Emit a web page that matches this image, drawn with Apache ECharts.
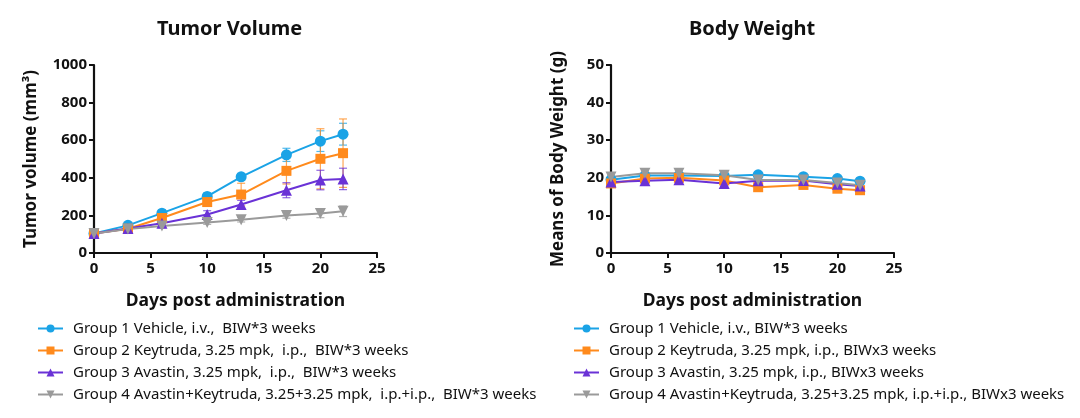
<!DOCTYPE html>
<html>
<head>
<meta charset="utf-8">
<script src="https://cdn.jsdelivr.net/npm/echarts@6/dist/echarts.min.js"></script>
<style>
  html, body { margin: 0; padding: 0; background: #fff; }
  #main { width: 1080px; height: 418px; }
</style>
</head>
<body>
<div id="main"></div>
<script>
;(function (window, document) {
    // 数据
    var days = [0, 3, 6, 10, 13, 17, 20, 22];

    // Tumor volume, mean
    var tv1 = [104, 147, 212, 301, 405, 522, 595, 632];
    var tv2 = [104, 129, 186, 271, 311, 437, 501, 531];
    var tv3 = [104, 130, 158, 205, 258, 334, 388, 394];
    var tv4 = [104, 127, 143, 162, 177, 200, 210, 222];
    // Tumor volume, SEM
    var tvErr1 = [10, 12, 15, 18, 18, 35, 55, 58];
    var tvErr2 = [10, 12, 18, 22, 60, 70, 160, 182];
    var tvErr3 = [10, 10, 15, 20, 22, 40, 52, 57];
    var tvErr4 = [8, 8, 10, 10, 12, 15, 22, 28];

    // Body weight, mean
    var bw1 = [19.5, 20.6, 20.6, 20.5, 20.8, 20.3, 19.8, 19.1];
    var bw2 = [18.5, 19.8, 20.0, 19.3, 17.5, 18.1, 17.1, 16.7];
    var bw3 = [18.9, 19.2, 19.5, 18.5, 19.2, 19.3, 18.3, 17.8];
    var bw4 = [20.2, 21.2, 21.2, 20.7, 19.4, 19.4, 18.6, 18.0];
    // Body weight, SEM
    var bwErr1 = [0.5, 0.6, 0.6, 0.5, 0.5, 0.5, 0.6, 0.6];
    var bwErr2 = [0.5, 0.6, 0.6, 0.6, 0.6, 0.5, 0.6, 0.6];
    var bwErr3 = [0.5, 0.6, 0.6, 0.7, 0.5, 0.5, 0.6, 0.6];
    var bwErr4 = [0.5, 0.7, 0.7, 0.5, 0.5, 0.5, 0.5, 0.5];

    var tvNames = [
        'Group 1 Vehicle, i.v.,  BIW*3 weeks',
        'Group 2 Keytruda, 3.25 mpk,  i.p.,  BIW*3 weeks',
        'Group 3 Avastin, 3.25 mpk,  i.p.,  BIW*3 weeks',
        'Group 4 Avastin+Keytruda, 3.25+3.25 mpk,  i.p.+i.p.,  BIW*3 weeks'
    ];
    var bwNames = [
        'Group 1 Vehicle, i.v., BIW*3 weeks',
        'Group 2 Keytruda, 3.25 mpk, i.p., BIWx3 weeks',
        'Group 3 Avastin, 3.25 mpk, i.p., BIWx3 weeks',
        'Group 4 Avastin+Keytruda, 3.25+3.25 mpk, i.p.+i.p., BIWx3 weeks'
    ];

    var colors = ['#1AA3E6', '#FF8A1C', '#6A32D6', '#9A9A9A'];
    var symbols = ['circle', 'rect', 'triangle', 'triangle'];
    var rotates = [0, 0, 0, 180];
    var sizes = [11, 10, 11, 11];
    var font = '"Noto Sans", "Open Sans", sans-serif';

    function pairs(y) {
        return days.map(function (d, i) { return [d, y[i]]; });
    }
    function triples(y, e) {
        return days.map(function (d, i) { return [d, y[i], e[i]]; });
    }

    // 误差线
    function errRender(params, api) {
        var x = api.value(0), y = api.value(1), e = api.value(2);
        var hi = api.coord([x, y + e]);
        var lo = api.coord([x, y - e]);
        var w = 4;
        var style = { stroke: api.visual('color'), lineWidth: 1.2, opacity: 0.75 };
        return {
            type: 'group',
            children: [
                { type: 'line', shape: { x1: hi[0], y1: hi[1], x2: lo[0], y2: lo[1] }, style: style },
                { type: 'line', shape: { x1: hi[0] - w, y1: hi[1], x2: hi[0] + w, y2: hi[1] }, style: style },
                { type: 'line', shape: { x1: lo[0] - w, y1: lo[1], x2: lo[0] + w, y2: lo[1] }, style: style }
            ]
        };
    }

    function axisCommon() {
        return {
            axisLine: { show: true, onZero: false, lineStyle: { color: '#111', width: 2.2 } },
            axisTick: { show: true, length: 5, lineStyle: { color: '#111', width: 2 } },
            axisLabel: {
                color: '#111', fontWeight: 'bold', fontSize: 15, fontFamily: font,
                formatter: function (v) { return String(v); }
            },
            splitLine: { show: false },
            nameTextStyle: { color: '#111', fontWeight: 'bold', fontSize: 17, fontFamily: font }
        };
    }

    function xAxis(idx) {
        var a = axisCommon();
        a.type = 'value';
        a.gridIndex = idx;
        a.min = 0; a.max = 25; a.interval = 5;
        a.name = 'Days post administration';
        a.nameLocation = 'middle';
        a.nameGap = 39;
        a.nameTextStyle.fontSize = 17.5;
        a.axisLabel.margin = 8;
        return a;
    }
    function yAxis(idx, max, interval, name, gap) {
        var a = axisCommon();
        a.type = 'value';
        a.gridIndex = idx;
        a.min = 0; a.max = max; a.interval = interval;
        a.name = name;
        a.nameLocation = 'middle';
        a.nameGap = gap;
        a.axisLabel.margin = 7;
        return a;
    }

    var series = [];
    function addGroup(gi, names, means, errs) {
        means.forEach(function (m, k) {
            series.push({
                type: 'custom',
                xAxisIndex: gi, yAxisIndex: gi,
                renderItem: errRender,
                itemStyle: { color: colors[k] },
                data: triples(m, errs[k]),
                silent: true,
                z: 1
            });
        });
        means.forEach(function (m, k) {
            series.push({
                name: names[k],
                type: 'line',
                xAxisIndex: gi, yAxisIndex: gi,
                data: pairs(m),
                symbol: symbols[k],
                symbolSize: sizes[k],
                symbolRotate: rotates[k],
                showAllSymbol: true,
                color: colors[k],
                lineStyle: { width: 2, color: colors[k] },
                itemStyle: { color: colors[k] },
                z: 2
            });
        });
    }
    addGroup(0, tvNames, [tv1, tv2, tv3, tv4], [tvErr1, tvErr2, tvErr3, tvErr4]);
    addGroup(1, bwNames, [bw1, bw2, bw3, bw4], [bwErr1, bwErr2, bwErr3, bwErr4]);

    function legend(left, names) {
        return {
            orient: 'vertical',
            left: left,
            top: 316,
            data: names,
            itemWidth: 25,
            itemHeight: 10,
            itemGap: 7,
            textStyle: { color: '#111', fontSize: 15, fontFamily: font, padding: [0, 0, 0, 5] },
            selectedMode: false
        };
    }

    var option = {
        animation: false,
        backgroundColor: '#fff',
        title: [
            { text: 'Tumor Volume', left: 152, top: 14,
              textStyle: { fontSize: 20, fontWeight: 'bold', color: '#111', fontFamily: font } },
            { text: 'Body Weight', left: 684, top: 14,
              textStyle: { fontSize: 20, fontWeight: 'bold', color: '#111', fontFamily: font } }
        ],
        grid: [
            { left: 94, top: 65, width: 283, height: 188 },
            { left: 611, top: 65, width: 283, height: 188 }
        ],
        xAxis: [xAxis(0), xAxis(1)],
        yAxis: [
            yAxis(0, 1000, 200, 'Tumor volume (mm³)', 54),
            yAxis(1, 50, 10, 'Means of Body Weight (g)', 44)
        ],
        legend: [legend(32, tvNames), legend(568, bwNames)],
        series: series
    };

    var myChart = echarts.init(document.getElementById('main'));
    myChart.setOption(option);
})(window, document);
</script>
</body>
</html>
